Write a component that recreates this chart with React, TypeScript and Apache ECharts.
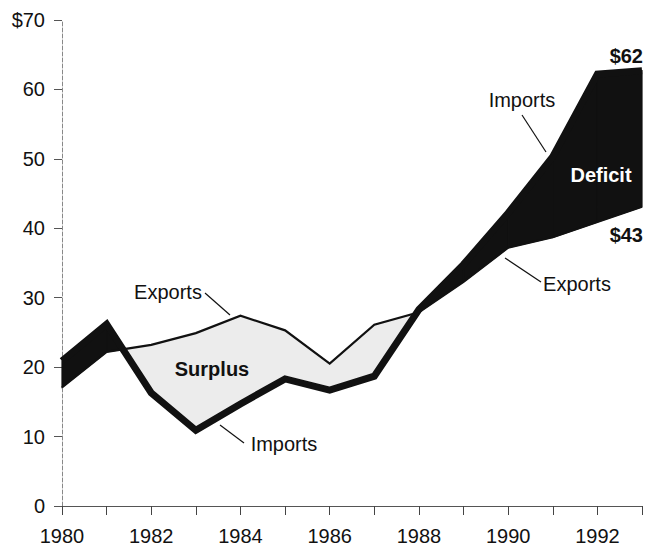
import React, { useEffect, useRef } from "react";
import * as echarts from "echarts";

const years = [1980, 1981, 1982, 1983, 1984, 1985, 1986, 1987, 1988, 1989, 1990, 1991, 1992, 1993];
const exportsVals = [17.1, 22.2, 23.2, 24.9, 27.4, 25.3, 20.5, 26.1, 27.9, 32.3, 37.2, 38.7, 40.9, 43.1];
const importsVals = [20.9, 26.2, 16.3, 10.9, 14.7, 18.3, 16.7, 18.7, 28.3, 34.8, 42.2, 50.3, 62.2, 62.7];
const yTicks = [0, 10, 20, 30, 40, 50, 60, 70];

const FONT = "'Liberation Sans', Arial, Helvetica, sans-serif";

export default function App() {
  const ref = useRef<HTMLDivElement>(null);

  useEffect(() => {
    if (!ref.current) return;
    const chart = echarts.init(ref.current, null, { renderer: "svg" });

    const segments = years.slice(0, -1).map((_, i) => [i]);

    const renderFill = (params: any, api: any) => {
      const i = api.value(0);
      const x0 = years[i], x1 = years[i + 1];
      const e0 = exportsVals[i], e1 = exportsVals[i + 1];
      const m0 = importsVals[i], m1 = importsVals[i + 1];
      const d0 = m0 - e0, d1 = m1 - e1;
      const deficit = "#111111";
      const surplus = "#ececec";
      const c = (x: number, y: number) => api.coord([x, y]);
      const children: any[] = [];
      if (d0 * d1 >= 0) {
        const col = d0 + d1 > 0 ? deficit : surplus;
        children.push({
          type: "polygon",
          shape: { points: [c(x0, e0), c(x1, e1), c(x1, m1), c(x0, m0)] },
          style: { fill: col, stroke: col, lineWidth: 1.2 },
        });
      } else {
        const t = d0 / (d0 - d1);
        const xc = x0 + t * (x1 - x0);
        const yc = e0 + t * (e1 - e0);
        const ca = d0 > 0 ? deficit : surplus;
        const cb = d1 > 0 ? deficit : surplus;
        children.push({
          type: "polygon",
          shape: { points: [c(x0, e0), c(xc, yc), c(x0, m0)] },
          style: { fill: ca, stroke: ca, lineWidth: 1.2 },
        });
        children.push({
          type: "polygon",
          shape: { points: [c(xc, yc), c(x1, e1), c(x1, m1)] },
          style: { fill: cb, stroke: cb, lineWidth: 1.2 },
        });
      }
      return { type: "group", children };
    };

    const txt = (x: number, y: number, text: string, opts: any = {}) => ({
      type: "text",
      x,
      y,
      style: {
        text,
        font: `${opts.bold ? "bold " : ""}${opts.size || 20}px ${FONT}`,
        fill: opts.fill || "#111",
        textAlign: opts.align || "center",
        textVerticalAlign: "middle",
      },
      z: 100,
    });
    const ln = (x1: number, y1: number, x2: number, y2: number) => ({
      type: "line",
      shape: { x1, y1, x2, y2 },
      style: { stroke: "#111", lineWidth: 1.2 },
      z: 100,
    });

    chart.setOption({
      animation: false,
      backgroundColor: "#fff",
      grid: { left: 62, right: 2, top: 20, bottom: 43, containLabel: false },
      xAxis: {
        type: "value",
        min: years[0],
        max: years[years.length - 1],
        interval: 1,
        axisLine: { show: true, lineStyle: { color: "#555", width: 1 } },
        axisTick: { show: true, length: 9, lineStyle: { color: "#444" } },
        axisLabel: {
          margin: 20,
          color: "#111",
          fontSize: 20,
          fontFamily: FONT,
          formatter: (v: number) => (v % 2 === 0 && v < 1993 ? String(v) : ""),
        },
        splitLine: { show: false },
      },
      yAxis: {
        type: "value",
        min: yTicks[0],
        max: yTicks[yTicks.length - 1],
        interval: 10,
        axisLine: { show: true, lineStyle: { color: "#888", width: 1, type: "dashed" } },
        axisTick: { show: true, length: 8, lineStyle: { color: "#555" } },
        axisLabel: {
          margin: 17,
          color: "#111",
          fontSize: 20,
          fontFamily: FONT,
          formatter: (v: number) => (v === 70 ? "$70" : String(v)),
        },
        splitLine: { show: false },
      },
      series: [
        {
          type: "custom",
          renderItem: renderFill,
          data: segments,
          encode: { x: 0 },
          z: 1,
          silent: true,
        },
        {
          name: "Exports",
          type: "line",
          data: years.map((y, i) => [y, exportsVals[i]]),
          symbol: "none",
          lineStyle: { color: "#111", width: 2.2, join: "miter" },
          z: 3,
        },
        {
          name: "Imports",
          type: "line",
          data: years.map((y, i) => [y, importsVals[i]]),
          symbol: "none",
          lineStyle: { color: "#111", width: 7, join: "miter" },
          z: 4,
        },
      ],
      graphic: [
        txt(168, 292, "Exports"),
        ln(205, 293, 230, 315),
        txt(284, 444, "Imports"),
        ln(220, 425, 244, 443),
        txt(522, 100, "Imports"),
        ln(522, 115, 546, 152),
        txt(577, 284, "Exports"),
        ln(505, 258, 541, 282),
        txt(212, 369, "Surplus", { bold: true }),
        txt(601, 175, "Deficit", { bold: true, fill: "#ffffff" }),
        txt(643, 56, "$62", { bold: true, align: "right" }),
        txt(643, 235, "$43", { bold: true, align: "right" }),
      ],
    });

    return () => chart.dispose();
  }, []);

  return (
    <div
      ref={ref}
      style={{ position: "fixed", left: 0, top: 0, width: 645, height: 549, background: "#fff" }}
    />
  );
}
